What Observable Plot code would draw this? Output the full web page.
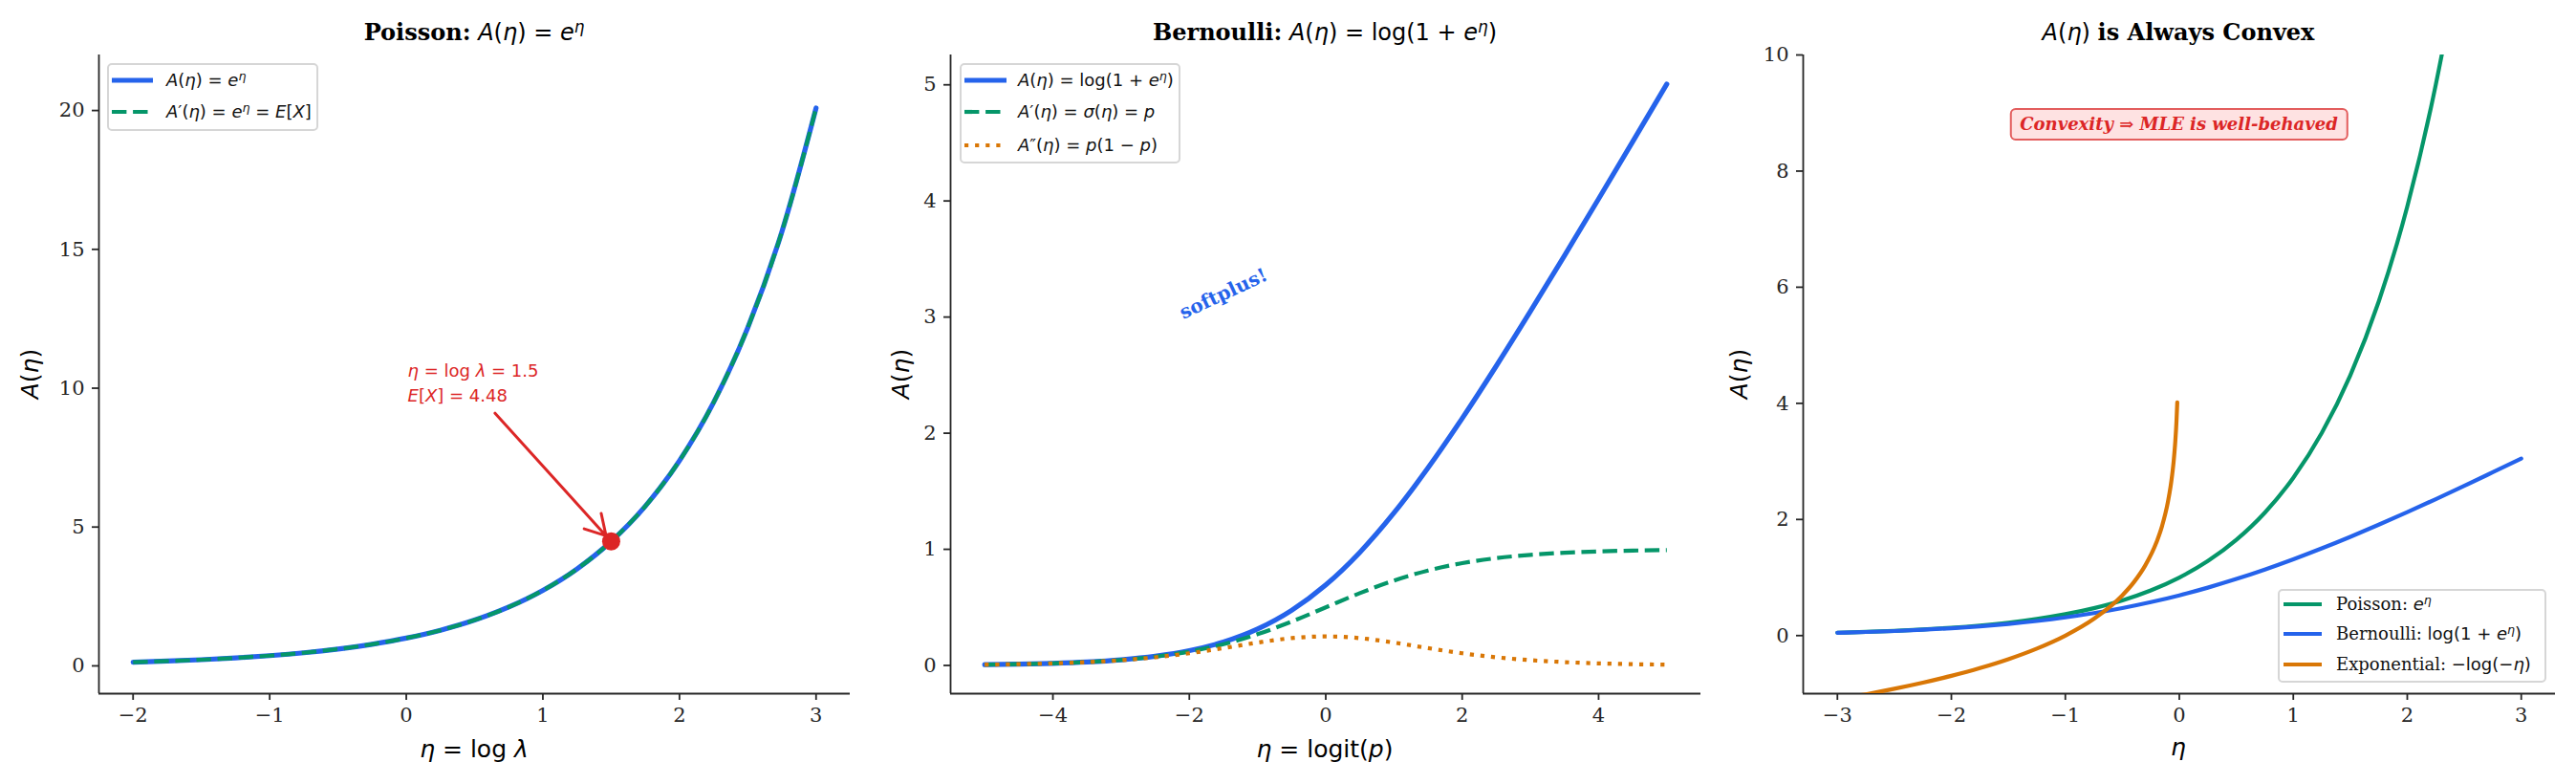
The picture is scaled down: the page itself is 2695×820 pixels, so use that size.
<!DOCTYPE html>
<html><head><meta charset="utf-8">
<script src="https://cdn.jsdelivr.net/npm/d3@7"></script>
<script src="https://cdn.jsdelivr.net/npm/@observablehq/plot@0.6"></script>
<style>
body{margin:0;background:#fff;}
#root{position:relative;width:2695px;height:820px;overflow:hidden;background:#fff;}
.panel{position:absolute;top:0;}
.ov{position:absolute;white-space:nowrap;line-height:1;}
.serif{font-family:"DejaVu Serif",serif;}
.sans{font-family:"DejaVu Sans",sans-serif;}
.ov sup{font-size:0.7em;vertical-align:0.5em;line-height:0;}
.ov b.serif{font-weight:bold;}
.legend{position:absolute;background:rgba(255,255,255,0.85);border:2px solid #d6d6d6;border-radius:5px;box-sizing:border-box;}
</style>
</head><body>
<div id="root"></div>
<script>
// ---------------- data ----------------
// Panel 1: Poisson
const poissonEta = [-2,-1.75,-1.5,-1.25,-1,-0.75,-0.5,-0.25,0,0.25,0.5,0.75,1,1.25,1.5,1.75,2,2.25,2.5,2.75,3];
const poissonA   = [0.135,0.174,0.223,0.287,0.368,0.472,0.607,0.779,1.0,1.284,1.649,2.117,2.718,3.490,4.482,5.755,7.389,9.488,12.18,15.64,20.09];
const poissonDA  = [0.135,0.174,0.223,0.287,0.368,0.472,0.607,0.779,1.0,1.284,1.649,2.117,2.718,3.490,4.482,5.755,7.389,9.488,12.18,15.64,20.09];
const annoEta = 1.5, annoEX = 4.48;
const annoTextAt = [0, 10.6, 9.7];      // x, y of the two text lines
const arrowFrom = [0.65, 9.1];
const poissonXTicks = [-2,-1,0,1,2,3];
const poissonYTicks = [0,5,10,15,20];

// Panel 2: Bernoulli
const bernEta   = [-5,-4.5,-4,-3.5,-3,-2.5,-2,-1.5,-1,-0.5,0,0.5,1,1.5,2,2.5,3,3.5,4,4.5,5];
const bernA     = [0.0067,0.0111,0.0182,0.0298,0.0486,0.0789,0.1269,0.2014,0.3133,0.4741,0.6931,0.9741,1.3133,1.7014,2.1269,2.5789,3.0486,3.5297,4.0181,4.5110,5.0067];
const bernSigma = [0.0067,0.0110,0.0180,0.0293,0.0474,0.0759,0.1192,0.1824,0.2689,0.3775,0.5,0.6225,0.7311,0.8176,0.8808,0.9241,0.9526,0.9707,0.9820,0.9890,0.9933];
const bernVar   = [0.0066,0.0109,0.0177,0.0285,0.0452,0.0701,0.1050,0.1491,0.1966,0.2350,0.25,0.2350,0.1966,0.1491,0.1050,0.0701,0.0452,0.0285,0.0177,0.0109,0.0066];
const softplusAt = [-1.5, 3.2];
const bernXTicks = [-4,-2,0,2,4];
const bernYTicks = [0,1,2,3,4,5];

// Panel 3: convexity
const convEta      = [-3,-2.75,-2.5,-2.25,-2,-1.75,-1.5,-1.25,-1,-0.75,-0.5,-0.25,0,0.25,0.5,0.75,1,1.25,1.5,1.75,2,2.25,2.5,2.75,3];
const convPoisson  = [0.0498,0.0639,0.0821,0.1054,0.1353,0.1738,0.2231,0.2865,0.3679,0.4724,0.6065,0.7788,1.0,1.284,1.649,2.117,2.718,3.490,4.482,5.755,7.389,9.488,12.18,15.64,20.09];
const convBern     = [0.0486,0.0620,0.0789,0.1000,0.1269,0.1602,0.2014,0.2519,0.3133,0.3869,0.4741,0.5759,0.6931,0.8259,0.9741,1.1369,1.3133,1.5019,1.7014,1.9102,2.1269,2.3500,2.5789,2.8130,3.0486];
const expEta       = [-3,-2.75,-2.5,-2.25,-2,-1.75,-1.5,-1.25,-1,-0.75,-0.5,-0.4,-0.3,-0.2,-0.15,-0.1,-0.07,-0.05,-0.035,-0.025,-0.018];
const expA         = [-1.0986,-1.0116,-0.9163,-0.8109,-0.6931,-0.5596,-0.4055,-0.2231,0,0.2877,0.6931,0.9163,1.2040,1.6094,1.8971,2.3026,2.6593,2.9957,3.3524,3.6889,4.0174];
const convexNoteAt = [0, 8.8];
const convXTicks = [-3,-2,-1,0,1,2,3];
const convYTicks = [0,2,4,6,8,10];

// ---------------- styling ----------------
const BLUE = "#2563eb", GREEN = "#059669", ORANGE = "#d97706", RED = "#dc2626";
const DASH = "15.4,6.7", DOT = "4.2,6.9";
const INK = "#262626";
const root = document.getElementById("root");
const fmt = d => (d < 0 ? "−" : "") + Math.abs(d);

function axes(xt, yt, xdom, ydom) {
  return [
    Plot.axisX({ticks: xt, tickFormat: fmt, tickSize: 7, tickPadding: 8, label: null, strokeWidth: 1.8}),
    Plot.axisY({ticks: yt, tickFormat: fmt, tickSize: 7, tickPadding: 8, label: null, strokeWidth: 1.8}),
    Plot.ruleX([xdom[0]], {stroke: INK, strokeWidth: 1.8}),
    Plot.ruleY([ydom[0]], {stroke: INK, strokeWidth: 1.8})
  ];
}
function curve(xs, ys, opts) {
  return Plot.line(xs, {x: d => d, y: (d, i) => ys[i], curve: "monotone-x", clip: true, ...opts});
}
function makePanel(left, width, ml, mr, xdom, ydom, xt, yt, marks) {
  const svg = Plot.plot({
    width, height: 820, marginLeft: ml, marginRight: mr, marginTop: 57, marginBottom: 95,
    x: {domain: xdom}, y: {domain: ydom},
    style: {fontFamily: '"DejaVu Serif", serif', fontSize: "21px", color: INK, background: "transparent", overflow: "visible"},
    marks: [...axes(xt, yt, xdom, ydom), ...marks]
  });
  const wrap = document.createElement("div");
  wrap.className = "panel";
  wrap.style.left = left + "px";
  wrap.appendChild(svg);
  root.appendChild(wrap);
  const sx = svg.scale("x"), sy = svg.scale("y");
  return {X: v => left + sx.apply(v), Y: v => sy.apply(v)};
}
function addText(html, x, y, o = {}) {
  const {anchor = "middle", cls = "sans", size = 18, color = "#111", rotate = 0, style = ""} = o;
  const d = document.createElement("div");
  d.className = "ov " + cls;
  d.innerHTML = html;
  const tx = anchor === "middle" ? "-50%" : anchor === "end" ? "-100%" : "0";
  d.style.cssText = `left:${x}px;top:${y}px;font-size:${size}px;color:${color};transform:translate(${tx},-50%)${rotate ? ` rotate(${rotate}deg)` : ""};${style}`;
  root.appendChild(d);
  return d;
}
function legend(box, rows) {
  const b = document.createElement("div");
  b.className = "legend";
  b.style.cssText = `left:${box[0]}px;top:${box[1]}px;width:${box[2]}px;height:${box[3]}px;`;
  root.appendChild(b);
  for (const r of rows) {
    const ns = "http://www.w3.org/2000/svg";
    const s = document.createElementNS(ns, "svg");
    s.setAttribute("width", r.x1 - r.x0); s.setAttribute("height", 12);
    s.style.cssText = `position:absolute;left:${r.x0}px;top:${r.y - 6}px;`;
    const l = document.createElementNS(ns, "line");
    l.setAttribute("x1", 0); l.setAttribute("x2", r.x1 - r.x0); l.setAttribute("y1", 6); l.setAttribute("y2", 6);
    l.setAttribute("stroke", r.color); l.setAttribute("stroke-width", r.w);
    if (r.dash) l.setAttribute("stroke-dasharray", r.dash);
    s.appendChild(l);
    root.appendChild(s);
    addText(r.html, r.tx, r.y, {anchor: "start", cls: r.cls || "sans", size: 18});
  }
}

// ---------------- panel 1 ----------------
const p1 = makePanel(0, 898, 103, 9, [-2.25, 3.25], [-1, 22], poissonXTicks, poissonYTicks, [
  curve(poissonEta, poissonA, {stroke: BLUE, strokeWidth: 5.2}),
  curve(poissonEta, poissonDA, {stroke: GREEN, strokeWidth: 4.2, strokeDasharray: DASH, strokeLinecap: "butt"}),
  Plot.arrow([0], {x1: arrowFrom[0], y1: arrowFrom[1], x2: annoEta, y2: annoEX, stroke: RED, strokeWidth: 3, headLength: 12, insetEnd: 8, bend: 0}),
  Plot.dot([0], {x: annoEta, y: annoEX, r: 9.5, fill: RED})
]);

// ---------------- panel 2 ----------------
const p2 = makePanel(898, 898, 96, 17, [-5.5, 5.5], [-0.243, 5.257], bernXTicks, bernYTicks, [
  curve(bernEta, bernA, {stroke: BLUE, strokeWidth: 5.2}),
  curve(bernEta, bernSigma, {stroke: GREEN, strokeWidth: 4.2, strokeDasharray: DASH, strokeLinecap: "butt"}),
  curve(bernEta, bernVar, {stroke: ORANGE, strokeWidth: 4.2, strokeDasharray: DOT, strokeLinecap: "butt"}),
  Plot.text(["softplus!"], {x: softplusAt[0], y: softplusAt[1], text: d => d, rotate: -25, fill: BLUE, fontWeight: "bold", fontSize: 20, fontFamily: '"DejaVu Serif", serif'})
]);

// ---------------- panel 3 ----------------
const p3 = makePanel(1796, 899, 90, 22, [-3.3, 3.3], [-1, 10], convXTicks, convYTicks, [
  curve(convEta, convPoisson, {stroke: GREEN, strokeWidth: 4.2}),
  curve(convEta, convBern, {stroke: BLUE, strokeWidth: 4.2}),
  curve(expEta, expA, {stroke: ORANGE, strokeWidth: 4.2})
]);

// ---------------- titles ----------------
const A = `<i>A</i>(<i>η</i>)`;
const EETA = `<i>e</i><sup><i>η</i></sup>`;
addText(`<b class="serif">Poisson:</b> ${A} = ${EETA}`, 496, 34, {size: 24, color: "#000"});
addText(`<b class="serif">Bernoulli:</b> ${A} = log(1 + ${EETA})`, 1386, 34, {size: 24, color: "#000"});
addText(`${A} <b class="serif">is Always Convex</b>`, 2279, 34, {size: 24, color: "#000"});

// ---------------- axis labels ----------------
addText(`<i>η</i> = log <i>λ</i>`, 496, 783, {size: 25, color: "#000"});
addText(`<i>η</i> = logit(<i>p</i>)`, 1386, 783, {size: 25, color: "#000"});
addText(`<i>η</i>`, 2279, 781, {size: 25, color: "#000"});
addText(A, 31, 391, {size: 25, color: "#000", rotate: -90});
addText(A, 942, 391, {size: 25, color: "#000", rotate: -90});
addText(A, 1819, 391, {size: 25, color: "#000", rotate: -90});

// ---------------- annotations ----------------
addText(`<i>η</i> = log <i>λ</i> = 1.5`, p1.X(annoTextAt[0]) + 2, p1.Y(annoTextAt[1]), {anchor: "start", size: 18, color: RED});
addText(`<i>E</i>[<i>X</i>] = 4.48`, p1.X(annoTextAt[0]) + 2, p1.Y(annoTextAt[2]), {anchor: "start", size: 18, color: RED});
addText(`Convexity ⇒ MLE is well-behaved`, p3.X(convexNoteAt[0]), p3.Y(convexNoteAt[1]), {cls: "serif", size: 18, color: RED,
  style: "font-weight:bold;font-style:italic;background:#fee2e2;border:2px solid #e35d5d;border-radius:6px;padding:6px 9px;"});

// ---------------- legends ----------------
legend([112, 66, 221, 71], [
  {y: 84, x0: 117, x1: 160, tx: 174, color: BLUE, w: 5.2, html: `${A} = ${EETA}`},
  {y: 117, x0: 117, x1: 160, tx: 174, color: GREEN, w: 4.2, dash: DASH, html: `<i>A</i>′(<i>η</i>) = ${EETA} = <i>E</i>[<i>X</i>]`}
]);
legend([1004, 66, 231, 105], [
  {y: 84, x0: 1009, x1: 1053, tx: 1065, color: BLUE, w: 5.2, html: `${A} = log(1 + ${EETA})`},
  {y: 117, x0: 1009, x1: 1053, tx: 1065, color: GREEN, w: 4.2, dash: DASH, html: `<i>A</i>′(<i>η</i>) = <i>σ</i>(<i>η</i>) = <i>p</i>`},
  {y: 152, x0: 1009, x1: 1053, tx: 1065, color: ORANGE, w: 4.2, dash: DOT, html: `<i>A</i>″(<i>η</i>) = <i>p</i>(1 − <i>p</i>)`}
]);
legend([2383, 616, 281, 98], [
  {y: 632, x0: 2389, x1: 2429, tx: 2444, color: GREEN, w: 4.2, html: `<span class="serif">Poisson:</span> ${EETA}`},
  {y: 663, x0: 2389, x1: 2429, tx: 2444, color: BLUE, w: 4.2, html: `<span class="serif">Bernoulli:</span> log(1 + ${EETA})`},
  {y: 695, x0: 2389, x1: 2429, tx: 2444, color: ORANGE, w: 4.2, html: `<span class="serif">Exponential:</span> −log(−<i>η</i>)`}
]);
</script>
</body></html>
